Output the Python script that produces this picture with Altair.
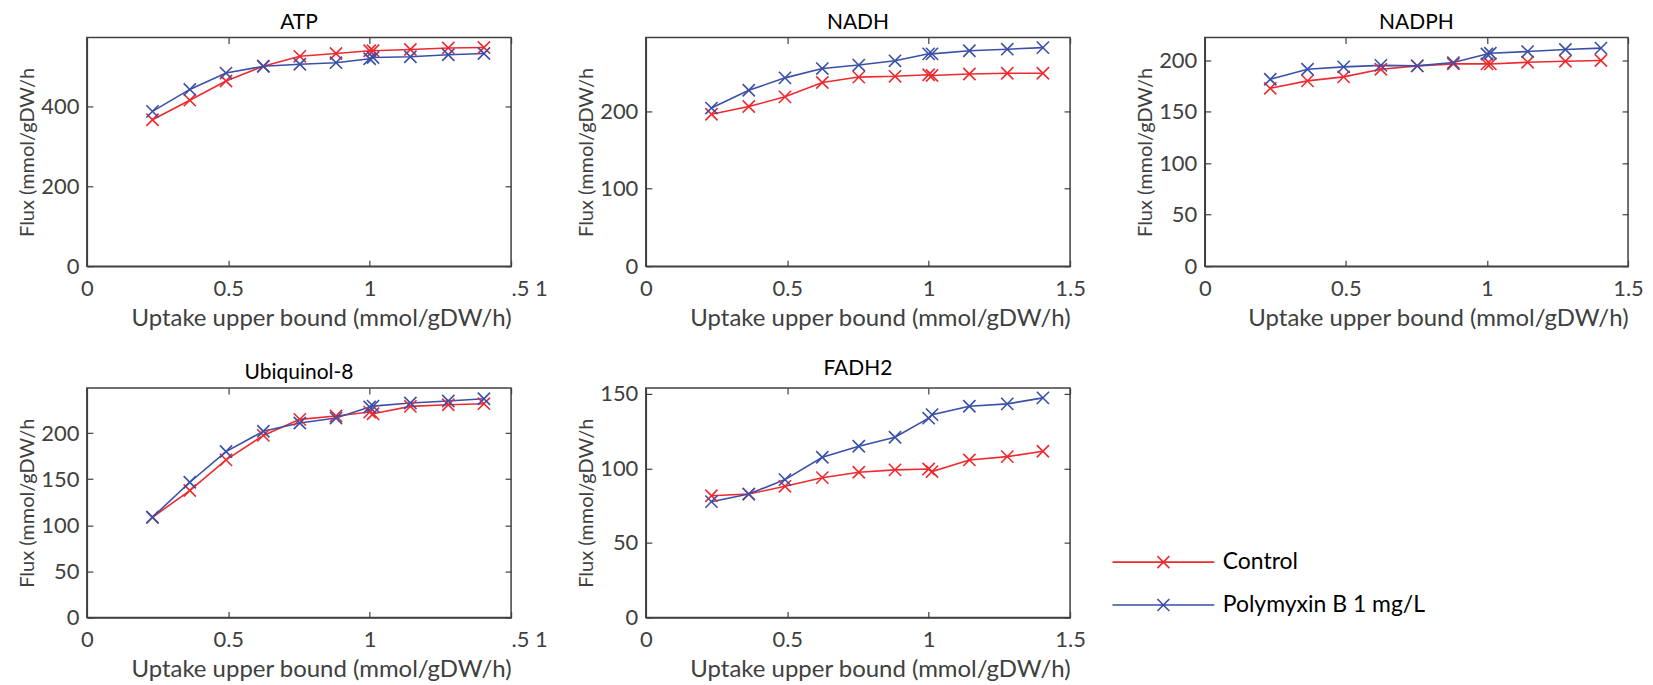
import altair as alt
import pandas as pd

# ---------------- data ----------------
x_bound = [0.232, 0.364, 0.492, 0.624, 0.753, 0.881, 1.0, 1.012, 1.144, 1.278, 1.404]
series_names = ["Control", "Polymyxin B 1 mg/L"]

atp_control = [367, 416, 464, 501, 526, 533, 540, 540, 543, 547, 548]
atp_polymyxin = [388, 443, 484, 501, 506, 510, 520, 523, 525, 530, 533]
nadh_control = [196, 206, 218.5, 237, 244, 245, 247, 246, 248, 249, 249]
nadh_polymyxin = [204, 227, 243, 255, 259.5, 265, 274, 274, 278, 280, 282]
nadph_control = [172.7, 179.9, 183.8, 191.2, 194.5, 196.4, 196.4, 196.4, 198, 199, 199.7]
nadph_polymyxin = [181.5, 191.2, 193.5, 195, 194.5, 197.7, 206, 206.8, 208.4, 210.4, 211.7]
ubq_control = [108.7, 137.7, 171, 197.5, 214.9, 218.5, 222.8, 221, 229, 230.8, 231.9]
ubq_polymyxin = [108.7, 146.7, 180, 202, 210.9, 216.3, 228.3, 229.3, 232.6, 234.8, 237.3]
fadh2_control = [81.7, 82.8, 88, 93.8, 97.4, 99, 99.6, 97.9, 105.7, 107.9, 111.5]
fadh2_polymyxin = [77.7, 82.8, 92.5, 107.5, 114.9, 120.9, 133.7, 136.1, 141.7, 143.3, 147.3]

panel_titles = ["ATP", "NADH", "NADPH", "Ubiquinol-8", "FADH2"]
y_max = [573, 295, 222, 249, 154]
y_ticks = [[0, 200, 400], [0, 100, 200], [0, 50, 100, 150, 200],
           [0, 50, 100, 150, 200], [0, 50, 100, 150]]
x_ticks = [0, 0.5, 1, 1.5]
x_title = "Uptake upper bound (mmol/gDW/h)"
y_title = "Flux (mmol/gDW/h"

# ---------------- style ----------------
RED = "#EE2A2E"
BLUE = "#3A50A8"
GREY = "#404040"
FONT = "Lato"
XPATH = "M-1,-1L1,1M-1,1L1,-1"
LEGPATH = "M-8.5,0H8.5M-1,-1L1,1M-1,1L1,-1"


def panel(i, ctrl, poly, w, h, odd_label):
    df = pd.DataFrame({
        "x": x_bound + x_bound,
        "y": ctrl + poly,
        "series": [series_names[0]] * len(x_bound) + [series_names[1]] * len(x_bound),
    })
    base = alt.Chart(df)
    xs = alt.Scale(domain=[0, 1.5], nice=False, zero=False)
    ys = alt.Scale(domain=[0, y_max[i]], nice=False)
    color = alt.Color(
        "series:N",
        scale=alt.Scale(domain=series_names, range=[RED, BLUE]),
        legend=alt.Legend(
            title=None, orient="none", legendX=1025, legendY=514,
            symbolType=LEGPATH, symbolSize=144, symbolStrokeWidth=1.6,
            symbolOffset=42, labelOffset=48, rowPadding=19, labelLimit=0,
            labelFont=FONT, labelFontSize=23, labelColor="black",
        ),
    )
    if odd_label:
        label_expr = "datum.value == 1.5 ? '.5 1' : datum.label"
        label_align = {"condition": {"test": "datum.value == 1.5", "value": "left"}, "value": "center"}
    else:
        label_expr = "datum.label"
        label_align = "center"
    x_main = alt.X("x:Q", scale=xs, title=x_title,
                   axis=alt.Axis(values=x_ticks, format="~g", ticks=False, tickSize=0,
                                 labelExpr=label_expr, labelAlign=label_align, grid=False,
                                 labelPadding=12, titlePadding=7, labelFlush=False,
                                 titleFontSize=24, titleAnchor="end"))
    y_main = alt.Y("y:Q", scale=ys, title=y_title,
                   axis=alt.Axis(values=y_ticks[i], ticks=False, tickSize=0, grid=False,
                                 labelPadding=8, titlePadding=3, titleFontSize=20))
    tick_ax = dict(labels=False, domain=False, ticks=True, tickSize=6, tickColor=GREY,
                   tickWidth=1.2, grid=False, title=None)
    x_t1 = alt.X("x:Q", scale=xs, axis=alt.Axis(orient="top", offset=-h, values=x_ticks, **tick_ax))
    y_t1 = alt.Y("y:Q", scale=ys, axis=alt.Axis(orient="right", offset=-w, values=y_ticks[i], **tick_ax))
    x_t2 = alt.X("x:Q", scale=xs, axis=alt.Axis(orient="bottom", offset=-h, values=x_ticks, **tick_ax))
    y_t2 = alt.Y("y:Q", scale=ys, axis=alt.Axis(orient="left", offset=-w, values=y_ticks[i], **tick_ax))

    lines = base.mark_line(strokeWidth=1.6).encode(x=x_main, y=y_main, color=color)
    pts = base.mark_point(shape=XPATH, size=150, filled=False, strokeWidth=1.6, opacity=1).encode(
        x=x_t1, y=y_t1, color=color)
    ghost = base.mark_point(opacity=0, size=1).encode(x=x_t2, y=y_t2)
    return alt.layer(lines, pts, ghost).resolve_axis(x="independent", y="independent").properties(
        width=w, height=h,
        title=alt.TitleParams(panel_titles[i], offset=4),
    )


p1 = panel(0, atp_control, atp_polymyxin, 425, 229, True)
p2 = panel(1, nadh_control, nadh_polymyxin, 425, 229, False)
p3 = panel(2, nadph_control, nadph_polymyxin, 424, 229, False)
p4 = panel(3, ubq_control, ubq_polymyxin, 425, 230, True)
p5 = panel(4, fadh2_control, fadh2_polymyxin, 425, 230, False)

chart = alt.concat(
    p1, p2, p3, p4, p5, columns=3, bounds="flush",
    spacing={"row": 122, "column": 135},
).properties(
    padding={"top": 2, "left": 8, "right": 0, "bottom": 0}
).configure_view(
    stroke=GREY, strokeWidth=1.5
).configure_axis(
    labelFont=FONT, labelFontSize=22, labelColor=GREY,
    titleFont=FONT, titleFontSize=21, titleColor=GREY, titleFontWeight="normal",
    domainColor=GREY, domainWidth=1.5,
).configure_title(
    font=FONT, fontSize=21, fontWeight="normal", color="black"
)

chart.save("out.html", embed_options={"renderer": "svg", "actions": False})
